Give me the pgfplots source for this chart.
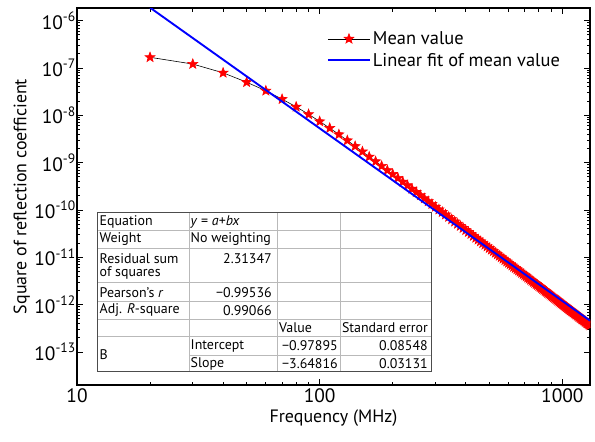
\documentclass[border=0pt]{standalone}
\usepackage{fontspec}
\setmainfont{PT Sans}
\usepackage{pgfplots}
\usepackage{pgfplotstable}
\pgfplotsset{compat=1.18}

\pgfdeclareplotmark{fstar}{%
  \pgfpathmoveto{\pgfqpointpolar{90}{\pgfplotmarksize}}%
  \pgfpathlineto{\pgfqpointpolar{126}{0.42\pgfplotmarksize}}%
  \pgfpathlineto{\pgfqpointpolar{162}{\pgfplotmarksize}}%
  \pgfpathlineto{\pgfqpointpolar{198}{0.42\pgfplotmarksize}}%
  \pgfpathlineto{\pgfqpointpolar{234}{\pgfplotmarksize}}%
  \pgfpathlineto{\pgfqpointpolar{270}{0.42\pgfplotmarksize}}%
  \pgfpathlineto{\pgfqpointpolar{306}{\pgfplotmarksize}}%
  \pgfpathlineto{\pgfqpointpolar{342}{0.42\pgfplotmarksize}}%
  \pgfpathlineto{\pgfqpointpolar{18}{\pgfplotmarksize}}%
  \pgfpathlineto{\pgfqpointpolar{54}{0.42\pgfplotmarksize}}%
  \pgfpathclose
  \pgfusepathqfillstroke}

\pgfplotstableread{
f y
20 1.68e-7
30 1.21e-7
40 7.9e-8
50 5.0e-8
60 3.3e-8
70 2.19e-8
80 1.51e-8
90 1.05e-8
100 7.41e-9
110 5.36e-9
120 3.94e-9
130 2.94e-9
140 2.22e-9
150 1.71e-9
160 1.33e-9
170 1.06e-9
180 8.48e-10
190 6.89e-10
200 5.71e-10
210 4.71e-10
220 3.93e-10
230 3.30e-10
240 2.79e-10
250 2.37e-10
260 2.04e-10
270 1.75e-10
280 1.52e-10
290 1.33e-10
300 1.16e-10
310 1.02e-10
320 9.00e-11
330 7.97e-11
340 7.09e-11
350 6.33e-11
360 5.66e-11
370 5.08e-11
380 4.58e-11
390 4.13e-11
400 3.74e-11
410 3.40e-11
420 3.09e-11
430 2.82e-11
440 2.57e-11
450 2.36e-11
460 2.16e-11
470 1.985e-11
480 1.83e-11
490 1.69e-11
500 1.56e-11
510 1.44e-11
520 1.34e-11
530 1.24e-11
540 1.15e-11
550 1.07e-11
560 9.97e-12
570 9.30e-12
580 8.68e-12
590 8.12e-12
600 7.60e-12
610 7.12e-12
620 6.68e-12
630 6.27e-12
640 5.90e-12
650 5.55e-12
660 5.23e-12
670 4.93e-12
680 4.65e-12
690 4.39e-12
700 4.15e-12
710 3.92e-12
720 3.71e-12
730 3.52e-12
740 3.33e-12
750 3.16e-12
760 3.00e-12
770 2.85e-12
780 2.71e-12
790 2.58e-12
800 2.45e-12
810 2.34e-12
820 2.23e-12
830 2.12e-12
840 2.03e-12
850 1.93e-12
860 1.85e-12
870 1.76e-12
880 1.69e-12
890 1.61e-12
900 1.54e-12
910 1.48e-12
920 1.42e-12
930 1.36e-12
940 1.30e-12
950 1.25e-12
960 1.20e-12
970 1.15e-12
980 1.10e-12
990 1.06e-12
1000 1.02e-12
1010 9.81e-13
1020 9.44e-13
1030 9.08e-13
1040 8.75e-13
1050 8.42e-13
1060 8.11e-13
1070 7.82e-13
1080 7.54e-13
1090 7.27e-13
1100 7.02e-13
1110 6.77e-13
1120 6.54e-13
1130 6.31e-13
1140 6.10e-13
1150 5.89e-13
1160 5.69e-13
1170 5.50e-13
1180 5.32e-13
1190 5.15e-13
1200 4.98e-13
1210 4.82e-13
1220 4.67e-13
1230 4.52e-13
1240 4.38e-13
1250 4.24e-13
1260 4.11e-13
1270 3.99e-13
1280 3.87e-13
1290 3.75e-13
1300 3.64e-13
}\meandata

\pgfplotstableread{
f y
20 1.882e-6
1300 4.58e-13
}\fitdata

\begin{document}
\begin{tikzpicture}
\begin{axis}[
  name=ax,
  xmode=log, ymode=log,
  scale only axis, width=513bp, height=377bp,
  xmin=10, xmax=1300, ymin=2e-14, ymax=1.85e-6,
  clip marker paths=true,
  xtick={10,100,1000}, xticklabels={10,100,1000},
  ytick={1e-13,1e-12,1e-11,1e-10,1e-9,1e-8,1e-7,1e-6},
  yticklabels={10\textsuperscript{-13},10\textsuperscript{-12},10\textsuperscript{-11},10\textsuperscript{-10},10\textsuperscript{-9},10\textsuperscript{-8},10\textsuperscript{-7},10\textsuperscript{-6}},
  tick label style={font=\fontsize{19.5}{22}\selectfont},
  yticklabel style={inner sep=1bp},
  label style={font=\fontsize{18}{20}\selectfont},
  xlabel={Frequency (MHz)},
  ylabel={Square of reflection coefficient},
  axis line style={line width=1.1bp},
  major tick length=6bp, minor tick length=3.5bp,
  every tick/.style={black, line width=0.8bp},
  legend style={draw=none, fill=none, at={(0.487,0.943)}, anchor=north west,
    font=\fontsize{18.5}{21}\selectfont, row sep=3bp, inner sep=0pt},
  legend cell align=left,
  legend image code/.code={\draw[mark repeat=2,mark phase=2,#1] plot coordinates {(0bp,0bp) (21bp,0bp) (42bp,0bp)};},
]
\addplot[black, line width=0.6bp, mark=fstar, mark size=5.2bp,
  mark options={solid, fill=red, draw=red}] table[x=f, y=y] {\meandata};
\addlegendentry{Mean value}
\addplot[blue, line width=1.9bp,
  legend image code/.code={\draw[blue, line width=1.9bp] (0bp,0bp) -- (42bp,0bp);}] table[x=f, y=y] {\fitdata};
\addlegendentry{Linear fit of mean value}
\end{axis}

\begin{scope}[shift={(ax.south west)}, x=1bp, y=1bp, font=\fontsize{14}{16}\selectfont]
\fill[white] (20.6,13) rectangle (354,172.3);
\draw[gray!55, line width=0.6bp]
  (20.6,154.3) -- (354,154.3)
  (20.6,136.7) -- (354,136.7)
  (20.6,102.3) -- (354,102.3)
  (20.6,83.3) -- (354,83.3)
  (20.6,65.7) -- (354,65.7)
  (20.6,48.3) -- (354,48.3)
  (112,30) -- (354,30)
  (112,13) -- (112,172.3)
  (200.5,13) -- (200.5,172.3)
  (263.3,13) -- (263.3,172.3);
\draw[black!70, line width=1bp] (20.6,13) rectangle (354,172.3);
\begin{scope}[every node/.style={inner sep=0pt}]
\node[anchor=west] at (22.5,163.3) {Equation};
\node[anchor=west] at (113.5,163.3) {\textit{y} = \textit{a}+\textit{bx}};
\node[anchor=west] at (22.5,145.5) {Weight};
\node[anchor=west] at (113.5,145.5) {No weighting};
\node[anchor=west] at (22.5,126.5) {Residual sum};
\node[anchor=west] at (22.5,112.3) {of squares};
\node[anchor=east] at (195,126.5) {2.31347};
\node[anchor=west] at (22.5,92.8) {Pearson’s \textit{r}};
\node[anchor=east] at (195,92.8) {−0.99536};
\node[anchor=west] at (22.5,74.5) {Adj. \textit{R}-square};
\node[anchor=east] at (195,74.5) {0.99066};
\node[anchor=west] at (202,57) {Value};
\node[anchor=west] at (264.8,57) {Standard error};
\node[anchor=west] at (22.5,30) {B};
\node[anchor=west] at (113.5,39.2) {Intercept};
\node[anchor=east] at (261,39.2) {−0.97895};
\node[anchor=east] at (351,39.2) {0.08548};
\node[anchor=west] at (113.5,21.5) {Slope};
\node[anchor=east] at (261,21.5) {−3.64816};
\node[anchor=east] at (351,21.5) {0.03131};
\end{scope}
\end{scope}

\pgfresetboundingbox
\path ([shift={(-77bp,-57bp)}]ax.south west) rectangle ([shift={(5bp,8bp)}]ax.north east);
\end{tikzpicture}
\end{document}
